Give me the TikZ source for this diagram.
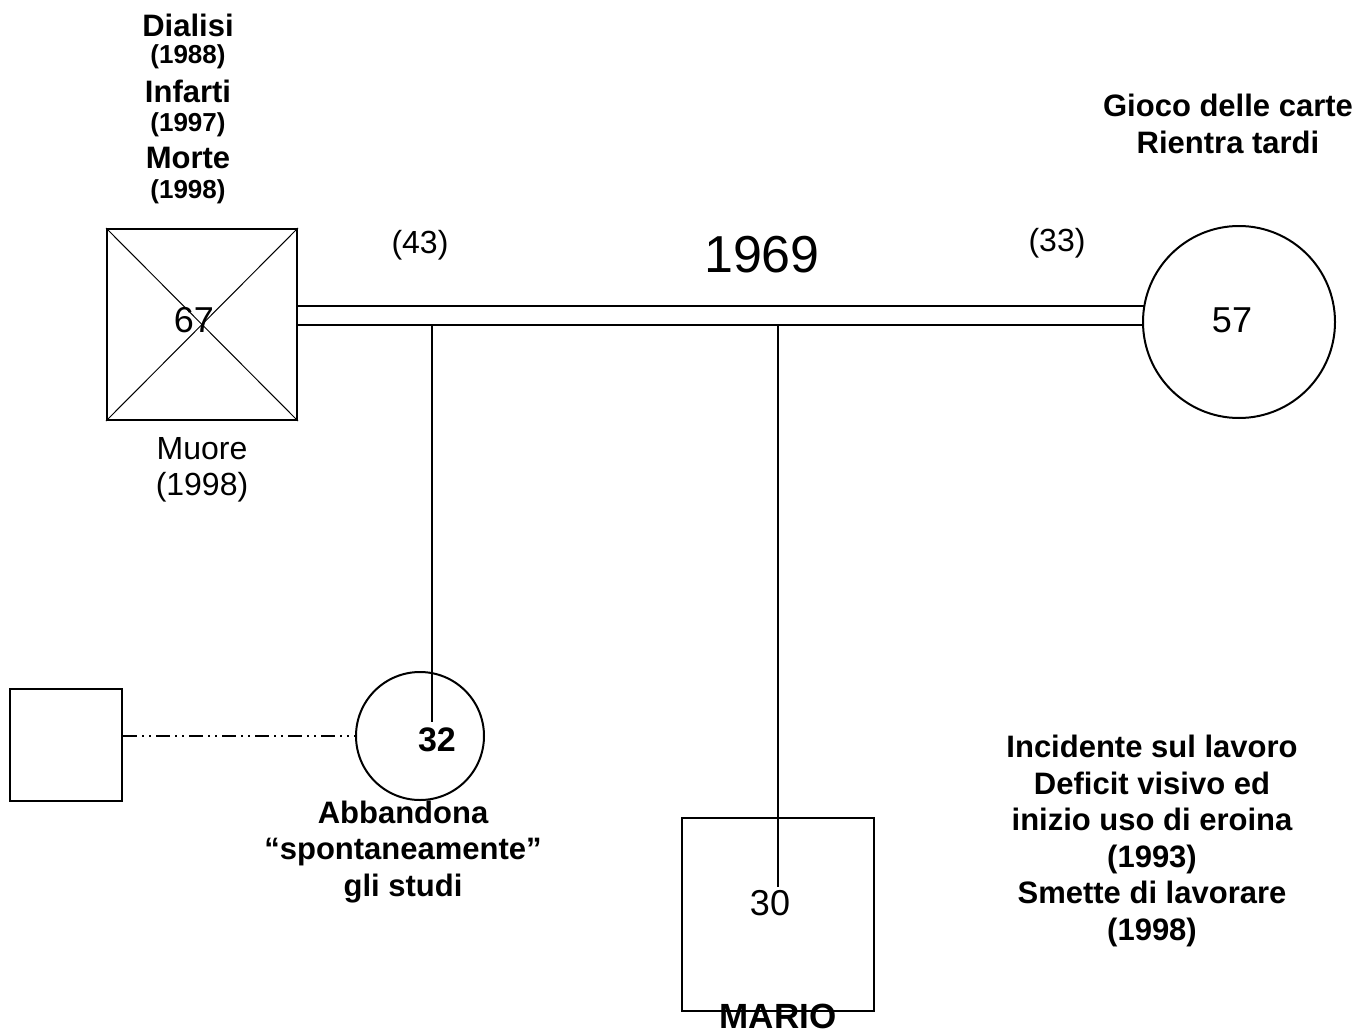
\documentclass[tikz,border=0pt]{standalone}
\usepackage{fontspec}
\setmainfont{Liberation Sans}
\begin{document}
\begin{tikzpicture}[x=1pt,y=-1pt,
  shape line/.style={line width=2pt},
  sq/.style={draw,shape line,rectangle,inner sep=0pt},
  circ/.style={draw,shape line,circle,inner sep=0pt},
  big/.style={font=\fontsize{36}{40}\selectfont},
  bigb/.style={font=\fontsize{31}{36.5}\selectfont\bfseries,align=center},
  smallb/.style={font=\fontsize{26}{30}\selectfont\bfseries},
  plain/.style={font=\fontsize{32}{36}\selectfont,align=center},
  link/.style={line width=1.5pt}]
\useasboundingbox (0,0) rectangle (1371,1033);
% father
\node[sq,minimum width=190pt,minimum height=191pt] (fa) at (202,324.5) {};
\draw[line width=1pt] (fa.north west) -- (fa.south east);
\draw[line width=1pt] (fa.south west) -- (fa.north east);
\node[big] (fa67) at (194,320) {67};
% mother
\node[circ,minimum size=192pt] (mo) at (1239,322) {};
\node[big] (mo57) at (1232,320) {57};
% marriage double line
\coordinate (m1a) at (297,306);
\coordinate (m1b) at (1144,306);
\coordinate (m2a) at (297,325);
\coordinate (m2b) at (1143,325);
\draw[line width=2pt] (m1a) -- (m1b);
\draw[line width=2pt] (m2a) -- (m2b);
% daughter
\node[circ,minimum size=128pt] (da) at (420,736) {};
\node[font=\fontsize{34}{38}\selectfont\bfseries] (da32) at (437,740) {32};
\coordinate (dtop) at (432,325);
\coordinate (dend) at (432,722);
\draw[link] (dtop) -- (dend);
% partner of daughter
\node[sq,minimum width=112pt,minimum height=112pt] (pa) at (66,745) {};
\draw[line width=2pt,dash pattern=on 14pt off 5pt on 2pt off 5pt on 2pt off 5pt] (pa.east |- da.west) -- (da.west);
% Mario
\node[sq,minimum width=192pt,minimum height=193pt] (ma) at (778,914.5) {};
\node[big] (ma30) at (770,903) {30};
\coordinate (mtop) at (778,325);
\coordinate (mend) at (778,887);
\draw[link] (mtop) -- (mend);
\node[font=\fontsize{35}{38}\selectfont\bfseries,anchor=base,inner sep=0pt] (mario) at (778,1028) {MARIO};
% labels
\node[bigb] (t1) at (188,25) {Dialisi};
\node[smallb] (t2) at (188,57) {(1988)};
\node[bigb] (t3) at (188,91) {Infarti};
\node[smallb] (t4) at (188,125) {(1997)};
\node[bigb] (t5) at (188,158) {Morte};
\node[smallb] (t6) at (188,192) {(1998)};
\node[plain] (muore) at (202,470) {Muore\\(1998)};
\node[font=\fontsize{32}{36}\selectfont] (a43) at (420,245) {(43)};
\node[font=\fontsize{32}{36}\selectfont] (a33) at (1057,243) {(33)};
\node[font=\fontsize{52}{56}\selectfont] (y1969) at (762,255) {1969};
\node[bigb] (gioco) at (1228,124) {Gioco delle carte\\Rientra tardi};
\node[bigb] (abb) at (403,852) {Abbandona\\“spontaneamente”\\gli studi};
\node[bigb] (inc) at (1152,841) {Incidente sul lavoro\\Deficit visivo ed\\inizio uso di eroina\\(1993)\\Smette di lavorare\\(1998)};
\end{tikzpicture}
\end{document}
